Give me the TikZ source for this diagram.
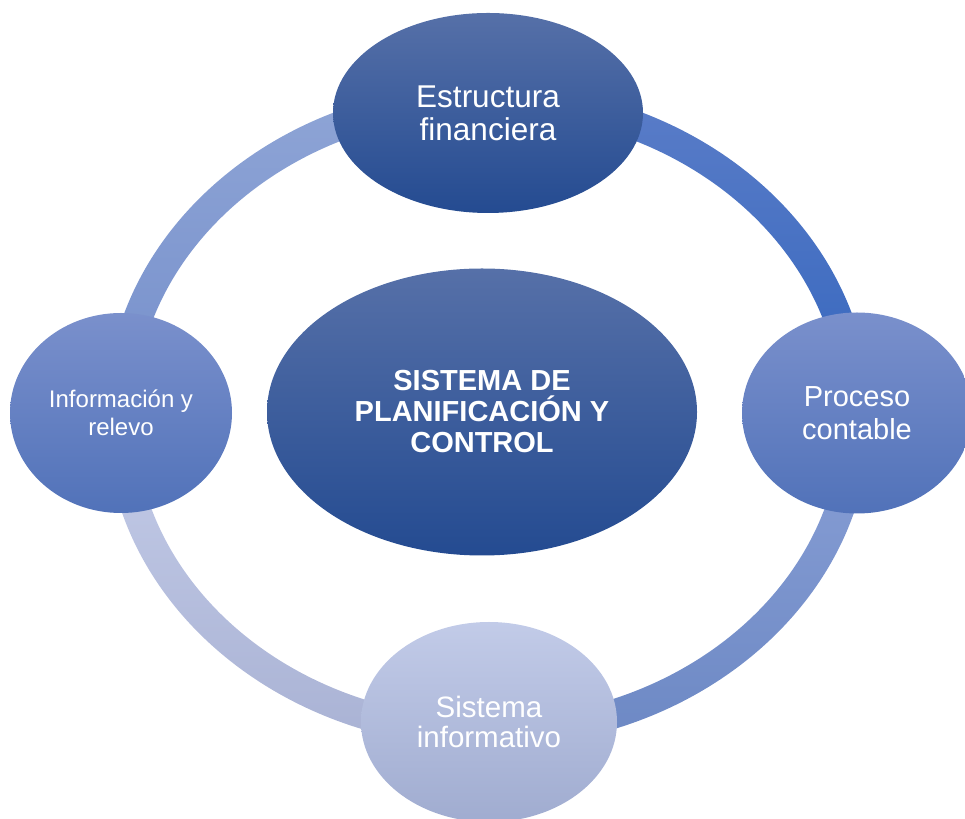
\documentclass[tikz,border=0pt]{standalone}
\usepackage{fontspec}
\setmainfont{Liberation Sans}
\usetikzlibrary{shapes.geometric}

% Ring colours
\definecolor{RingTRtop}{HTML}{5B7DC8}
\definecolor{RingTRbot}{HTML}{3466BE}
\definecolor{RingTLtop}{HTML}{8FA5D6}
\definecolor{RingTLbot}{HTML}{758FCB}
\definecolor{RingBLtop}{HTML}{C4CCE8}
\definecolor{RingBLbot}{HTML}{A9B2D4}
\definecolor{RingBRtop}{HTML}{8AA0D6}
\definecolor{RingBRbot}{HTML}{6C88C4}
% Bubble colours
\definecolor{DarkTop}{HTML}{5670A8}
\definecolor{DarkBot}{HTML}{244B91}
\definecolor{MidTop}{HTML}{7A90CC}
\definecolor{MidBot}{HTML}{5172B9}
\definecolor{PaleTop}{HTML}{C2CBE8}
\definecolor{PaleBot}{HTML}{A0ACD0}

\tikzset{Bubble/.style={ellipse, inner sep=0pt, text=white, align=center,
    font=\fontsize{29}{33}\selectfont}}

\begin{document}
\begin{tikzpicture}[x=1pt,y=1pt]
\useasboundingbox (0,0) rectangle (965,818);

% Ring, one shaded quarter at a time
\coordinate (O) at (488,402);
\shade[top color=RingTRtop, bottom color=RingTRbot]
    ([shift={(0:382.5 and 331.5)}]O) arc[start angle=0, end angle=90, x radius=382.5, y radius=331.5]
    -- ([shift={(90:353.5 and 302.5)}]O) arc[start angle=90, end angle=0, x radius=353.5, y radius=302.5] -- cycle;
\shade[top color=RingTLtop, bottom color=RingTLbot]
    ([shift={(90:382.5 and 331.5)}]O) arc[start angle=90, end angle=180, x radius=382.5, y radius=331.5]
    -- ([shift={(180:353.5 and 302.5)}]O) arc[start angle=180, end angle=90, x radius=353.5, y radius=302.5] -- cycle;
\shade[top color=RingBLtop, bottom color=RingBLbot]
    ([shift={(180:382.5 and 331.5)}]O) arc[start angle=180, end angle=270, x radius=382.5, y radius=331.5]
    -- ([shift={(270:353.5 and 302.5)}]O) arc[start angle=270, end angle=180, x radius=353.5, y radius=302.5] -- cycle;
\shade[top color=RingBRtop, bottom color=RingBRbot]
    ([shift={(270:382.5 and 331.5)}]O) arc[start angle=270, end angle=360, x radius=382.5, y radius=331.5]
    -- ([shift={(0:353.5 and 302.5)}]O) arc[start angle=0, end angle=-90, x radius=353.5, y radius=302.5] -- cycle;

% Centre
\node (S) at (482,406) [Bubble, minimum width=430pt, minimum height=287pt,
    top color=DarkTop, bottom color=DarkBot, font=\bfseries\fontsize{29}{31}\selectfont]
    {SISTEMA DE\\PLANIFICACIÓN Y\\CONTROL};

% Bubbles on the ring
\node (E) at (488,705) [Bubble, minimum width=310pt, minimum height=200pt,
    top color=DarkTop, bottom color=DarkBot, font=\fontsize{31.5}{33}\selectfont]
    {Estructura\\financiera};
\node (P) at (857,405) [Bubble, minimum width=230pt, minimum height=201pt,
    top color=MidTop, bottom color=MidBot] {Proceso\\contable};
\node (I) at (489,96) [Bubble, minimum width=256pt, minimum height=200pt,
    top color=PaleTop, bottom color=PaleBot, font=\fontsize{29.5}{30}\selectfont]
    {Sistema\\informativo};
\node (R) at (121,405) [Bubble, minimum width=222pt, minimum height=200pt,
    top color=MidTop, bottom color=MidBot, font=\fontsize{24}{28}\selectfont]
    {Información y\\relevo};

\end{tikzpicture}
\end{document}
